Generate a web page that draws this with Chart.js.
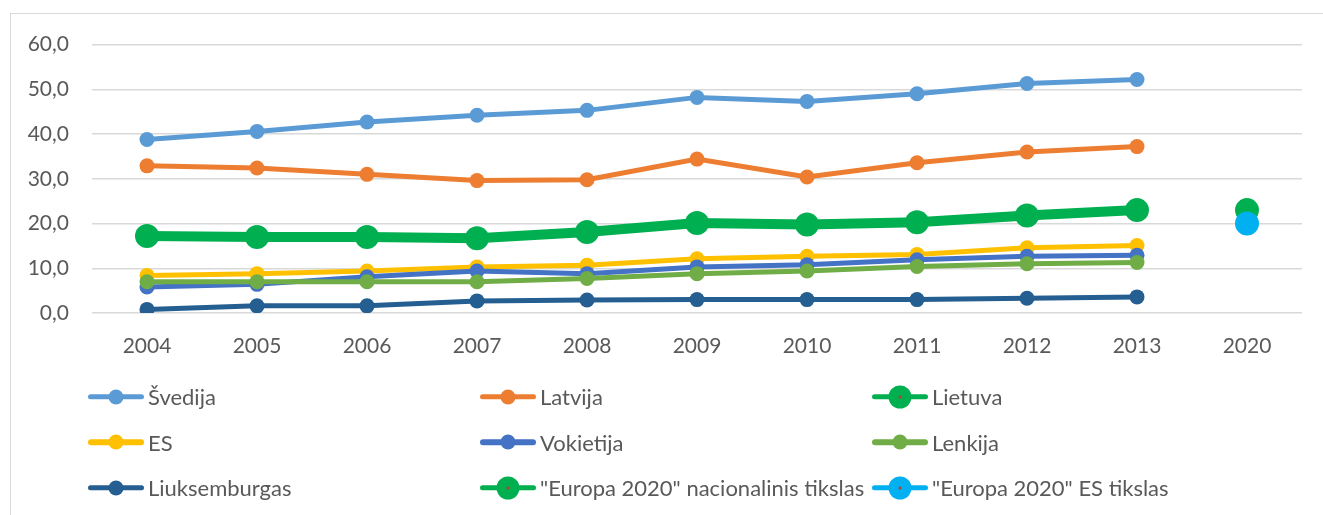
<!DOCTYPE html>
<html lang="lt">

<head>
  <meta charset="UTF-8">
  <title>Chart</title>
  <script src="https://cdn.jsdelivr.net/npm/chart.js@4.4.1/dist/chart.umd.min.js"></script>
  <style>
    body {
      margin: 0;
      background: #fff;
      font-family: Lato, "Open Sans", sans-serif;
    }

    #frame {
      position: absolute;
      left: 10px;
      top: 13px;
      width: 1330px;
      height: 520px;
      border: 1px solid #d9d9d9;
    }

    #chartBox {
      position: absolute;
      left: 10px;
      top: 9px;
      width: 1313px;
      height: 366px;
    }

    #legend {
      position: absolute;
      left: 88px;
      top: 374px;
      display: grid;
      grid-template-columns: 392px 392px 300px;
      grid-auto-rows: 45.5px;
      color: #595959;
      font-size: 22px;
    }

    .item {
      display: flex;
      align-items: center;
      white-space: nowrap;
    }

    .swatch {
      position: relative;
      width: 56px;
      height: 24px;
      margin-right: 4px;
      flex: none;
    }

    .swatch span {
      position: absolute;
      left: 50%;
      top: 50%;
      transform: translate(-50%, -50%);
    }

    .swatch .ln {
      width: 56px;
      height: 5.5px;
      border-radius: 3px;
    }

    .swatch .dot,
    .swatch .pip {
      border-radius: 50%;
    }
  </style>
</head>

<body>
  <div id="frame"></div>
  <div id="chartBox"><canvas id="chart"></canvas></div>
  <div id="legend"></div>

  <script>
    const years = ['2004', '2005', '2006', '2007', '2008', '2009', '2010', '2011', '2012', '2013', '2020'];

    const svedija = [38.8, 40.6, 42.7, 44.2, 45.3, 48.2, 47.3, 49.0, 51.3, 52.2, null];
    const latvija = [32.9, 32.4, 31.0, 29.6, 29.8, 34.4, 30.4, 33.6, 36.0, 37.2, null];
    const lietuva = [17.2, 17.0, 17.0, 16.7, 18.1, 20.1, 19.8, 20.3, 21.8, 23.0, null];
    const es = [8.4, 8.8, 9.4, 10.3, 10.7, 12.1, 12.7, 13.1, 14.6, 15.1, null];
    const vokietija = [5.8, 6.4, 8.1, 9.4, 8.8, 10.3, 10.8, 11.9, 12.7, 12.9, null];
    const lenkija = [7.0, 7.0, 7.0, 7.0, 7.7, 8.8, 9.4, 10.4, 11.0, 11.3, null];
    const liuksemburgas = [0.8, 1.6, 1.6, 2.7, 2.9, 3.0, 3.0, 3.0, 3.3, 3.6, null];
    const nacTikslas = [null, null, null, null, null, null, null, null, null, null, 23.0];
    const esTikslas = [null, null, null, null, null, null, null, null, null, null, 20.0];

    const yTicks = [0, 10, 20, 30, 40, 50, 60];

    // name, data, colour, line width, point radius, red pip in legend marker
    const series = [
      ['Švedija', svedija, '#5B9BD5', 5, 7.5, false],
      ['Latvija', latvija, '#ED7D31', 5, 7.5, false],
      ['Lietuva', lietuva, '#00B050', 10, 12, true],
      ['ES', es, '#FFC000', 5, 7.5, false],
      ['Vokietija', vokietija, '#4472C4', 5, 7.5, false],
      ['Lenkija', lenkija, '#70AD47', 5, 7.5, false],
      ['Liuksemburgas', liuksemburgas, '#255E91', 5, 7.5, false],
      ['"Europa 2020" nacionalinis tikslas', nacTikslas, '#00B050', 10, 12, true],
      ['"Europa 2020" ES tikslas', esTikslas, '#00B0F0', 10, 12, true]
    ];

    const datasets = series.map((s, i) => ({
      label: s[0],
      data: s[1],
      borderColor: s[2],
      backgroundColor: s[2],
      borderWidth: s[3],
      pointRadius: s[4],
      pointHoverRadius: s[4],
      pointBorderWidth: 0,
      tension: 0,
      order: series.length - i // later series drawn on top, like Excel
    }));

    const chart = new Chart(document.getElementById('chart'), {
      type: 'line',
      data: { labels: years, datasets: datasets },
      options: {
        responsive: true,
        maintainAspectRatio: false,
        animation: false,
        layout: { padding: { top: 24, right: 21, left: 0, bottom: 0 } },
        plugins: {
          legend: { display: false },
          tooltip: { enabled: false }
        },
        scales: {
          x: {
            offset: true,
            grid: { display: false, drawTicks: false },
            border: { display: false },
            ticks: { color: '#595959', font: { size: 21, family: 'Lato' }, padding: 21 },
            afterFit: (s) => { s.height = 62; }
          },
          y: {
            min: yTicks[0],
            max: yTicks[yTicks.length - 1],
            afterBuildTicks: (s) => { s.ticks = yTicks.map(v => ({ value: v })); },
            grid: { color: '#d9d9d9', lineWidth: 1.5, drawTicks: false },
            border: { display: false },
            ticks: {
              color: '#595959',
              font: { size: 21, family: 'Lato' },
              padding: 23,
              callback: (v) => v.toFixed(1).replace('.', ',')
            },
            afterFit: (s) => { s.width = 82; }
          }
        }
      }
    });

    // legend: line with marker, three columns
    const legend = document.getElementById('legend');
    series.forEach((s) => {
      const item = document.createElement('div');
      item.className = 'item';
      const sw = document.createElement('span');
      sw.className = 'swatch';
      const ln = document.createElement('span');
      ln.className = 'ln';
      ln.style.background = s[2];
      const dot = document.createElement('span');
      dot.className = 'dot';
      const d = s[4] >= 10 ? 23 : 15;
      dot.style.width = dot.style.height = d + 'px';
      dot.style.background = s[2];
      sw.appendChild(ln);
      sw.appendChild(dot);
      if (s[5]) {
        const pip = document.createElement('span');
        pip.className = 'pip';
        pip.style.width = pip.style.height = '3px';
        pip.style.background = '#C0392B';
        sw.appendChild(pip);
      }
      const txt = document.createElement('span');
      txt.textContent = s[0];
      item.appendChild(sw);
      item.appendChild(txt);
      legend.appendChild(item);
    });
  </script>
</body>

</html>
